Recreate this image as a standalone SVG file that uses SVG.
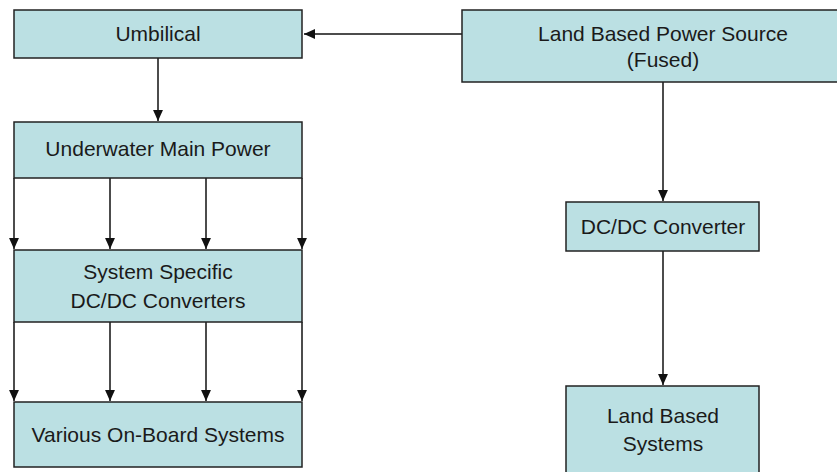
<svg xmlns="http://www.w3.org/2000/svg" width="837" height="472" viewBox="0 0 837 472">
<style>
.box{fill:#BBE0E3;stroke:#222;stroke-width:1.5}
.t{font-family:"Liberation Sans",Arial,sans-serif;font-size:21px;fill:#1a1a1a;text-anchor:middle}
.c{stroke:#111;stroke-width:1.5;fill:none;marker-end:url(#ah)}
</style>
<defs>
<marker id="ah" markerUnits="userSpaceOnUse" markerWidth="11" markerHeight="11" viewBox="0 0 10 10" refX="10" refY="5" orient="auto">
<path d="M0,0.5 L10,5 L0,9.5 Z" fill="#111"/>
</marker>
</defs>
<rect width="837" height="472" fill="#fff"/>
<g id="connectors">
<line class="c" x1="462" y1="34" x2="304" y2="34"/>
<line class="c" x1="158" y1="58" x2="158" y2="121"/>
<line class="c" x1="14" y1="178" x2="14" y2="249"/>
<line class="c" x1="110" y1="178" x2="110" y2="249"/>
<line class="c" x1="206" y1="178" x2="206" y2="249"/>
<line class="c" x1="302" y1="178" x2="302" y2="249"/>
<line class="c" x1="14" y1="322" x2="14" y2="401"/>
<line class="c" x1="110" y1="322" x2="110" y2="401"/>
<line class="c" x1="206" y1="322" x2="206" y2="401"/>
<line class="c" x1="302" y1="322" x2="302" y2="401"/>
<line class="c" x1="663" y1="82" x2="663" y2="201"/>
<line class="c" x1="663" y1="251" x2="663" y2="385"/>
</g>
<g id="umbilical">
<rect class="box" x="14" y="10" width="288" height="48"/>
<text class="t" x="158" y="41">Umbilical</text>
</g>
<g id="land-power-source">
<rect class="box" x="462" y="10" width="390" height="72"/>
<text class="t" x="663" y="41">Land Based Power Source</text>
<text class="t" x="663" y="67">(Fused)</text>
</g>
<g id="underwater-main-power">
<rect class="box" x="14" y="122" width="288" height="56"/>
<text class="t" x="158" y="156">Underwater Main Power</text>
</g>
<g id="system-specific">
<rect class="box" x="14" y="250" width="288" height="72"/>
<text class="t" x="158" y="279">System Specific</text>
<text class="t" x="158" y="308">DC/DC Converters</text>
</g>
<g id="various-onboard">
<rect class="box" x="14" y="402" width="288" height="65"/>
<text class="t" x="158" y="442">Various On-Board Systems</text>
</g>
<g id="dcdc-converter">
<rect class="box" x="566" y="202" width="193" height="49"/>
<text class="t" x="663" y="234">DC/DC Converter</text>
</g>
<g id="land-based-systems">
<rect class="box" x="566" y="386" width="193" height="100"/>
<text class="t" x="663" y="423">Land Based</text>
<text class="t" x="663" y="451">Systems</text>
</g>
</svg>
